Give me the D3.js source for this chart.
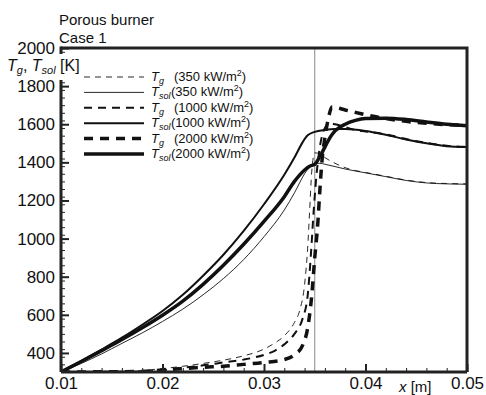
<!DOCTYPE html>
<html>
<head>
<meta charset="utf-8">
<script src="https://cdn.jsdelivr.net/npm/d3@7"></script>
<style>
  body { margin: 0; background: #fff; }
  text { font-family: "Liberation Sans", Arial, Helvetica, sans-serif; fill: #111; }
</style>
</head>
<body>
<div id="chart"></div>
<script>
// datos (x en m, T en K)
const tg350 = [[0.01,300],[0.016,302],[0.018,308],[0.02,318],[0.022,330],[0.024,345],[0.026,362],[0.028,385],[0.03,420],[0.031,450],[0.032,490],[0.033,560],[0.0335,620],[0.034,760],[0.0343,950],[0.0345,1150],[0.0347,1350],[0.035,1450],[0.0355,1445],[0.036,1425],[0.037,1395],[0.038,1372],[0.039,1357],[0.04,1347],[0.042,1327],[0.044,1307],[0.046,1294],[0.048,1289],[0.05,1287]];
const tsol350 = [[0.01,300],[0.012,345],[0.014,395],[0.016,450],[0.018,505],[0.02,565],[0.022,630],[0.024,705],[0.026,790],[0.028,890],[0.03,1010],[0.032,1150],[0.033,1240],[0.034,1340],[0.0345,1375],[0.035,1390],[0.0355,1395],[0.036,1390],[0.038,1365],[0.04,1345],[0.042,1325],[0.044,1305],[0.046,1292],[0.048,1287],[0.05,1285]];
const tg1000 = [[0.01,300],[0.018,302],[0.02,310],[0.022,322],[0.024,335],[0.026,350],[0.028,365],[0.03,390],[0.031,410],[0.032,445],[0.033,500],[0.0338,580],[0.0343,700],[0.0346,900],[0.0349,1150],[0.0352,1350],[0.0355,1480],[0.036,1580],[0.0365,1605],[0.037,1600],[0.038,1585],[0.039,1570],[0.04,1562],[0.042,1547],[0.044,1522],[0.046,1502],[0.048,1487],[0.05,1482]];
const tsol1000 = [[0.01,300],[0.012,358],[0.014,418],[0.016,480],[0.018,548],[0.02,620],[0.022,705],[0.024,805],[0.026,915],[0.028,1040],[0.03,1180],[0.032,1335],[0.033,1425],[0.0338,1505],[0.0343,1542],[0.035,1560],[0.036,1570],[0.037,1575],[0.038,1575],[0.04,1565],[0.042,1545],[0.044,1520],[0.046,1500],[0.048,1485],[0.05,1480]];
const tg2000 = [[0.01,300],[0.018,303],[0.02,310],[0.022,318],[0.024,325],[0.026,330],[0.028,340],[0.03,350],[0.032,365],[0.033,390],[0.0338,440],[0.0343,530],[0.0347,700],[0.035,900],[0.0353,1080],[0.0355,1250],[0.0357,1400],[0.036,1530],[0.0363,1620],[0.0367,1690],[0.037,1688],[0.038,1675],[0.039,1662],[0.04,1650],[0.042,1630],[0.044,1615],[0.046,1605],[0.048,1598],[0.05,1594]];
const tsol2000 = [[0.01,300],[0.012,355],[0.014,412],[0.016,470],[0.018,532],[0.02,598],[0.022,672],[0.024,760],[0.026,860],[0.028,970],[0.03,1090],[0.032,1220],[0.033,1300],[0.034,1360],[0.0345,1380],[0.035,1390],[0.0355,1430],[0.036,1480],[0.0365,1530],[0.037,1565],[0.038,1600],[0.039,1620],[0.04,1630],[0.042,1632],[0.044,1625],[0.046,1612],[0.048,1600],[0.05,1592]];

const xTicks = [0.01, 0.02, 0.03, 0.04, 0.05];
const yTicks = [400, 600, 800, 1000, 1200, 1400, 1600, 1800, 2000];
const fluxes = ["350", "1000", "2000"];
const xFlame = 0.035;

const width = 486, height = 395;
const mLeft = 61, mRight = 467, mTop = 48, mBottom = 372;

const svg = d3.select("#chart").append("svg")
  .attr("width", width)
  .attr("height", height);

const x = d3.scaleLinear().domain([0.01, 0.05]).range([mLeft, mRight]);
const y = d3.scaleLinear().domain([300, 2000]).range([mBottom, mTop]);

// títulos
svg.append("text").attr("x", 59).attr("y", 25).style("font-size", "15px").text("Porous burner");
svg.append("text").attr("x", 59).attr("y", 43).style("font-size", "15px").text("Case 1");

// línea vertical (frente de llama)
svg.append("line")
  .attr("x1", x(xFlame)).attr("x2", x(xFlame))
  .attr("y1", mTop).attr("y2", mBottom)
  .attr("stroke", "#888").attr("stroke-width", 1);

// curvas
const line = d3.line().x(d => x(d[0])).y(d => y(d[1])).curve(d3.curveMonotoneX);
const series = [
  { data: tg350, w: 0.9, dash: "6,5" },
  { data: tsol350, w: 0.9, dash: null },
  { data: tg1000, w: 2, dash: "8,6" },
  { data: tsol1000, w: 2, dash: null },
  { data: tg2000, w: 3.5, dash: "9,7" },
  { data: tsol2000, w: 3.5, dash: null }
];

const plot = svg.append("g");
plot.append("clipPath").attr("id", "clip")
  .append("rect").attr("x", mLeft).attr("y", mTop).attr("width", mRight - mLeft).attr("height", mBottom - mTop);
plot.selectAll("path")
  .data(series)
  .enter().append("path")
  .attr("clip-path", "url(#clip)")
  .attr("d", d => line(d.data))
  .attr("fill", "none")
  .attr("stroke", "#111")
  .attr("stroke-width", d => d.w)
  .attr("stroke-dasharray", d => d.dash);

// marco superior y derecho
svg.append("path")
  .attr("d", `M${mLeft},${mTop}H${mRight}V${mBottom}`)
  .attr("fill", "none").attr("stroke", "#222").attr("stroke-width", 3);

// ejes
const xMinor = d3.range(0.012, 0.05, 0.002);
svg.append("g").attr("transform", `translate(0,${mBottom})`)
  .call(d3.axisBottom(x).tickValues(xMinor).tickSize(-4).tickFormat(""))
  .call(g => g.select(".domain").remove())
  .selectAll("line").attr("stroke", "#222").attr("stroke-width", 1);
const xAxis = svg.append("g").attr("transform", `translate(0,${mBottom})`)
  .call(d3.axisBottom(x).tickValues(xTicks).tickSize(-8).tickPadding(5).tickFormat(d3.format(".2f")));
xAxis.selectAll("text").style("font-size", "17px").attr("fill", "#111");

const yMinor = d3.range(340, 2000, 40).filter(v => v % 200 !== 0);
svg.append("g").attr("transform", `translate(${mLeft},0)`)
  .call(d3.axisLeft(y).tickValues(yMinor).tickSize(-4).tickFormat(""))
  .call(g => g.select(".domain").remove())
  .selectAll("line").attr("stroke", "#222").attr("stroke-width", 1);
const yAxis = svg.append("g").attr("transform", `translate(${mLeft},0)`)
  .call(d3.axisLeft(y).tickValues(yTicks).tickSize(-8).tickPadding(6).tickFormat(d3.format("d")));
yAxis.selectAll("text").style("font-size", "17px").attr("fill", "#111");

[xAxis, yAxis].forEach(a => {
  a.select(".domain").attr("stroke", "#222").attr("stroke-width", 3);
  a.selectAll(".tick line").attr("stroke", "#222").attr("stroke-width", 2);
});
yAxis.selectAll(".domain").attr("d", `M0,${mTop - 1.5}V${mBottom}`);
xAxis.selectAll(".domain").attr("d", `M${mLeft},0H${mRight}`);

// etiqueta eje y con fondo blanco
svg.append("rect").attr("x", 55).attr("y", 54).attr("width", 30).attr("height", 26).attr("fill", "#fff");
const yl = svg.append("text").attr("x", 7).attr("y", 71).style("font-size", "16px");
yl.append("tspan").style("font-style", "italic").text("T");
yl.append("tspan").style("font-style", "italic").style("font-size", "11px").attr("dy", 3).text("g");
yl.append("tspan").attr("dy", -3).text(", ");
yl.append("tspan").style("font-style", "italic").text("T");
yl.append("tspan").style("font-style", "italic").style("font-size", "11px").attr("dy", 3).text("sol");
yl.append("tspan").attr("dy", -3).text(" [K]");

// etiqueta eje x
const xl = svg.append("text").attr("x", 399).attr("y", 392).style("font-size", "15px");
xl.append("tspan").style("font-style", "italic").text("x");
xl.append("tspan").text(" [m]");

// leyenda
const legend = svg.append("g");
series.forEach((s, i) => {
  const ly = 77 + i * 15.4;
  legend.append("line")
    .attr("x1", 84).attr("x2", 144).attr("y1", ly).attr("y2", ly)
    .attr("stroke", "#111").attr("stroke-width", s.w)
    .attr("stroke-dasharray", s.dash);
  const t = legend.append("text").attr("x", 151).attr("y", ly + 4).style("font-size", "13px");
  t.append("tspan").style("font-style", "italic").text("T");
  t.append("tspan").style("font-style", "italic").style("font-size", "9px").attr("dy", 3)
    .text(i % 2 === 0 ? "g" : "sol");
  t.append("tspan").attr("x", i % 2 === 0 ? 174 : 171).attr("dy", -3).text(`(${fluxes[Math.floor(i / 2)]} kW/m`);
  t.append("tspan").style("font-size", "9px").attr("dy", -5).text("2");
  t.append("tspan").attr("dy", 5).text(")");
});
</script>
</body>
</html>
